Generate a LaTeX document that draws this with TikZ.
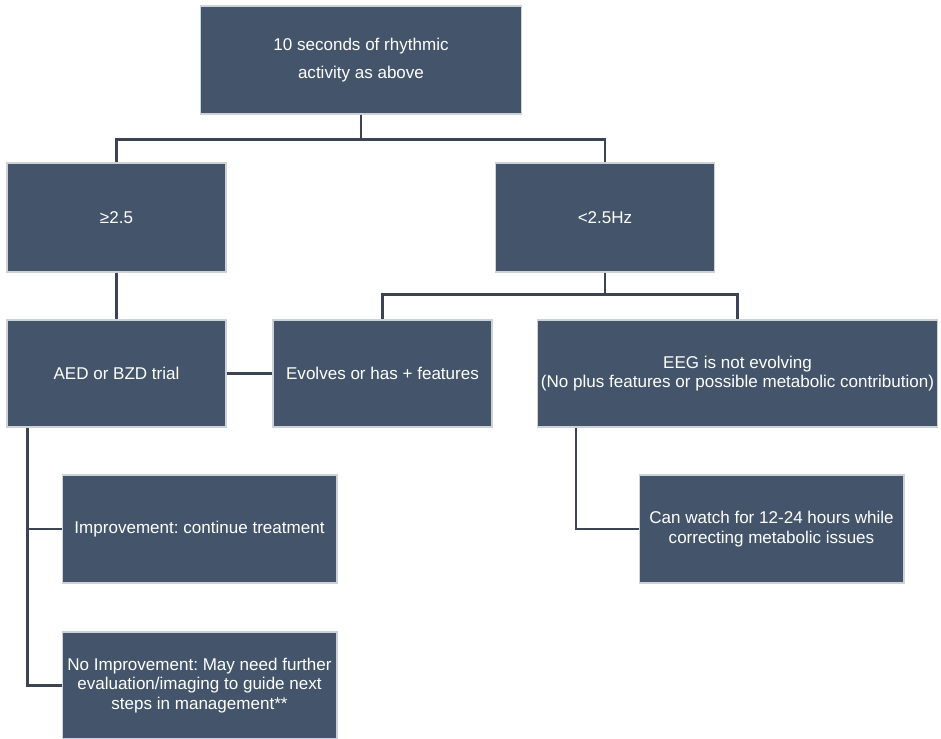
\documentclass[tikz,border=0pt]{standalone}
\usepackage{fontspec}
\setmainfont{Liberation Sans}
\usepackage{tikz}
\usetikzlibrary{positioning}
\frenchspacing

\definecolor{slate}{HTML}{44546A}
\definecolor{wire}{HTML}{3C4352}
\definecolor{rim}{HTML}{CDD2D9}

\begin{document}
\begin{tikzpicture}[x=0.02cm,y=-0.02cm,
  flowbox/.style={rectangle,fill=slate,draw=rim,line width=0.6pt,text=white,
    align=center,inner sep=2pt,font=\fontsize{9.7pt}{11.2pt}\selectfont},
  link/.style={draw=wire,line width=1.3pt}]
\useasboundingbox (0,0) rectangle (941,739);
% boxes
\node[flowbox,minimum width=6.44cm,minimum height=2.16cm,
  font=\fontsize{9.7pt}{15.8pt}\selectfont] (top) at (361,60) {10 seconds of rhythmic\\activity as above};
\node[flowbox,minimum width=4.38cm,minimum height=2.18cm] (geq) at (116.5,217.5) {≥2.5};
\node[flowbox,minimum width=4.38cm,minimum height=2.18cm] (lt) at (605,217.5) {<2.5Hz};
\node[flowbox,minimum width=4.38cm,minimum height=2.14cm] (aed) at (116.5,373.5) {AED or BZD trial};
\node[flowbox,minimum width=4.38cm,minimum height=2.14cm] (evo) at (382.5,373.5) {Evolves or has + features};
\node[flowbox,minimum width=7.94cm,minimum height=2.14cm] (eeg) at (737.5,373.5) {EEG is not evolving\\(No plus features or possible metabolic contribution)};
\node[flowbox,minimum width=5.5cm,minimum height=2.16cm] (imp) at (199.5,529) {Improvement: continue treatment};
\node[flowbox,minimum width=5.5cm,minimum height=2.14cm] (noimp) at (199.5,685.5) {No Improvement: May need further\\evaluation/imaging to guide next\\steps in management**};
\node[flowbox,minimum width=5.3cm,minimum height=2.16cm] (watch) at (771.5,529) {Can watch for 12-24 hours while\\correcting metabolic issues};
% connectors
\draw[link] (top.south) -- ++(0,25) -| (geq.north);
\draw[link] (top.south) -- ++(0,25) -| (lt.north);
\draw[link] (geq.south) -- (aed.north);
\draw[link] (lt.south) -- ++(0,22) -| (evo.north);
\draw[link] (lt.south) -- ++(0,22) -| (eeg.north);
\draw[link] (aed.east) -- (evo.west);
\draw[link] ([xshift=0.42cm]aed.south west) |- (imp.west);
\draw[link] ([xshift=0.42cm]aed.south west) |- (noimp.west);
\draw[link] ([xshift=0.78cm]eeg.south west) |- (watch.west);
\end{tikzpicture}
\end{document}
